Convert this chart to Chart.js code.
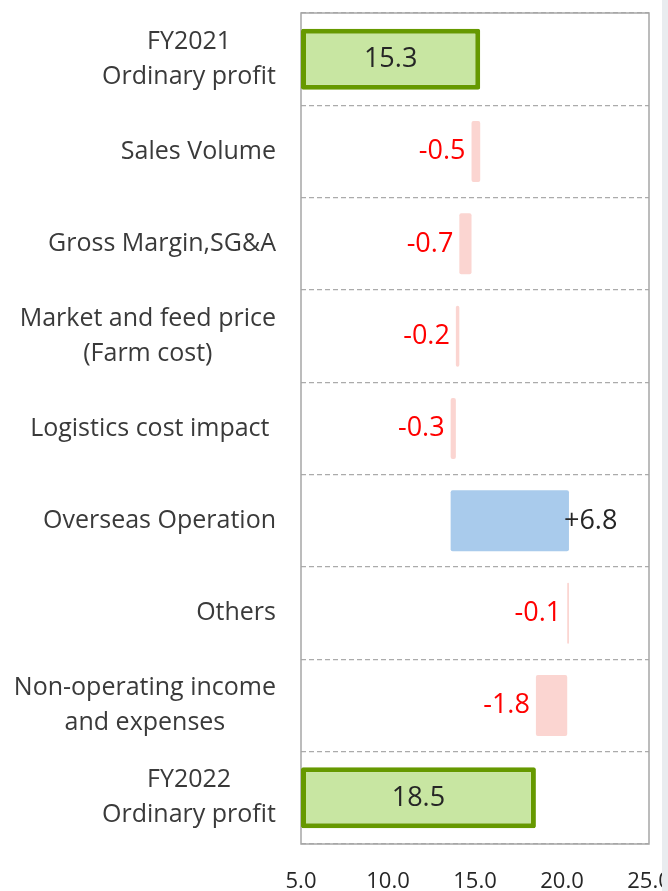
<!DOCTYPE html>
<html>
<head>
<meta charset="utf-8">
<script src="https://cdn.jsdelivr.net/npm/chart.js@4"></script>
<style>
  html, body { margin: 0; padding: 0; background: #fff; }
  #wrap { width: 668px; height: 891px; position: relative; }
</style>
</head>
<body>
<div id="wrap"><canvas id="waterfall"></canvas></div>
<script>
// categories (multi-line labels as arrays)
var categories = [
    ['FY2021', 'Ordinary profit'],
    'Sales Volume',
    'Gross Margin,SG&A',
    ['Market and feed price', '(Farm cost)'],
    'Logistics cost impact ',
    'Overseas Operation',
    'Others',
    ['Non-operating income', 'and expenses'],
    ['FY2022', 'Ordinary profit']
];
var startProfit = 15.3;
var endProfit = 18.5;
var changes = [-0.5, -0.7, -0.2, -0.3, 6.8, -0.1, -1.8];
var xTicks = [5, 10, 15, 20, 25];

var FONT = "'Open Sans', 'Noto Sans', sans-serif";
var xMin = xTicks[0], xMax = xTicks[xTicks.length - 1];

// build floating bars from the running total
var ranges = [[xMin, startProfit]];
var kinds = ['total'];
var running = startProfit;
changes.forEach(function (c) {
    ranges.push([running, running + c]);
    kinds.push(c < 0 ? 'down' : 'up');
    running = running + c;
});
ranges.push([xMin, endProfit]);
kinds.push('total');

var labelText = [startProfit.toFixed(1)];
changes.forEach(function (c) {
    labelText.push((c > 0 ? '+' : '') + c.toFixed(1));
});
labelText.push(endProfit.toFixed(1));

var fillColors = kinds.map(function (k) {
    return k === 'total' ? '#C8E6A2' : (k === 'down' ? '#FBD5D1' : '#A9CBEC');
});
var borderColors = kinds.map(function (k) { return k === 'total' ? '#669900' : 'rgba(0,0,0,0)'; });
var borderWidths = kinds.map(function (k) { return k === 'total' ? 5 : 0; });

// frame + category labels + value labels
var waterfallDecor = {
    id: 'waterfallDecor',
    beforeDatasetsDraw: function (chart) {
        var a = chart.chartArea, ctx = chart.ctx;
        ctx.save();
        ctx.strokeStyle = '#A6A6A6';
        ctx.lineWidth = 1.5;
        ctx.strokeRect(a.left, a.top, a.right - a.left, a.bottom - a.top);
        ctx.restore();
    },
    afterDatasetsDraw: function (chart) {
        var ctx = chart.ctx;
        var xs = chart.scales.x, ys = chart.scales.y;
        ctx.save();

        // category labels: block right-aligned, lines centred on each other
        ctx.font = '25px ' + FONT;
        ctx.fillStyle = '#3A3A3A';
        ctx.textBaseline = 'middle';
        ctx.textAlign = 'center';
        var lineGap = 35;
        categories.forEach(function (cat, i) {
            var lines = Array.isArray(cat) ? cat : [cat];
            var w = 0;
            lines.forEach(function (l) { w = Math.max(w, ctx.measureText(l).width); });
            var cx = 276 - w / 2;
            var cy = ys.getPixelForValue(i);
            lines.forEach(function (l, j) {
                ctx.fillText(l, cx, cy + (j - (lines.length - 1) / 2) * lineGap);
            });
        });

        // value labels
        ctx.font = '27px ' + FONT;
        ranges.forEach(function (r, i) {
            var y = ys.getPixelForValue(i);
            var p0 = xs.getPixelForValue(Math.min(r[0], r[1]));
            var p1 = xs.getPixelForValue(Math.max(r[0], r[1]));
            if (kinds[i] === 'total') {
                ctx.fillStyle = '#262626';
                ctx.textAlign = 'center';
                ctx.fillText(labelText[i], (p0 + p1) / 2, y);
            } else if (kinds[i] === 'down') {
                ctx.fillStyle = '#FF0000';
                ctx.textAlign = 'right';
                ctx.fillText(labelText[i], p0 - 6, y);
            } else {
                ctx.fillStyle = '#262626';
                ctx.textAlign = 'left';
                ctx.fillText(labelText[i], p1 - 5, y);
            }
        });
        ctx.restore();
    },
    afterDraw: function (chart) {
        var ctx = chart.ctx;
        ctx.save();
        ctx.fillStyle = '#E9ECEF';
        ctx.fillRect(chart.width - 6, 0, 6, chart.height);
        ctx.restore();
    }
};

new Chart(document.getElementById('waterfall'), {
    type: 'bar',
    data: {
        labels: categories,
        datasets: [{
            data: ranges,
            backgroundColor: fillColors,
            borderColor: borderColors,
            borderWidth: borderWidths,
            borderSkipped: false,
            borderRadius: 2,
            barPercentage: 0.66,
            categoryPercentage: 1
        }]
    },
    options: {
        indexAxis: 'y',
        responsive: true,
        maintainAspectRatio: false,
        animation: false,
        layout: {
            padding: { left: 301, top: 13, right: 19, bottom: 0 }
        },
        plugins: {
            legend: { display: false },
            tooltip: { enabled: false }
        },
        scales: {
            x: {
                min: xMin,
                max: xMax,
                afterBuildTicks: function (scale) {
                    scale.ticks = xTicks.map(function (v) { return { value: v }; });
                },
                afterFit: function (scale) {
                    scale.height = 47;
                    scale.paddingLeft = 0;
                    scale.paddingRight = 0;
                },
                grid: { display: false, drawTicks: false },
                border: { display: false },
                ticks: {
                    padding: 25,
                    color: '#262626',
                    font: { family: FONT, size: 22 },
                    maxRotation: 0,
                    callback: function (v) { return Number(v).toFixed(1); }
                }
            },
            y: {
                offset: true,
                grid: {
                    offset: true,
                    drawTicks: false,
                    color: '#ABABAB',
                    lineWidth: 1.3
                },
                border: { display: false, dash: [5, 3] },
                ticks: { display: false }
            }
        }
    },
    plugins: [waterfallDecor]
});
</script>
</body>
</html>
